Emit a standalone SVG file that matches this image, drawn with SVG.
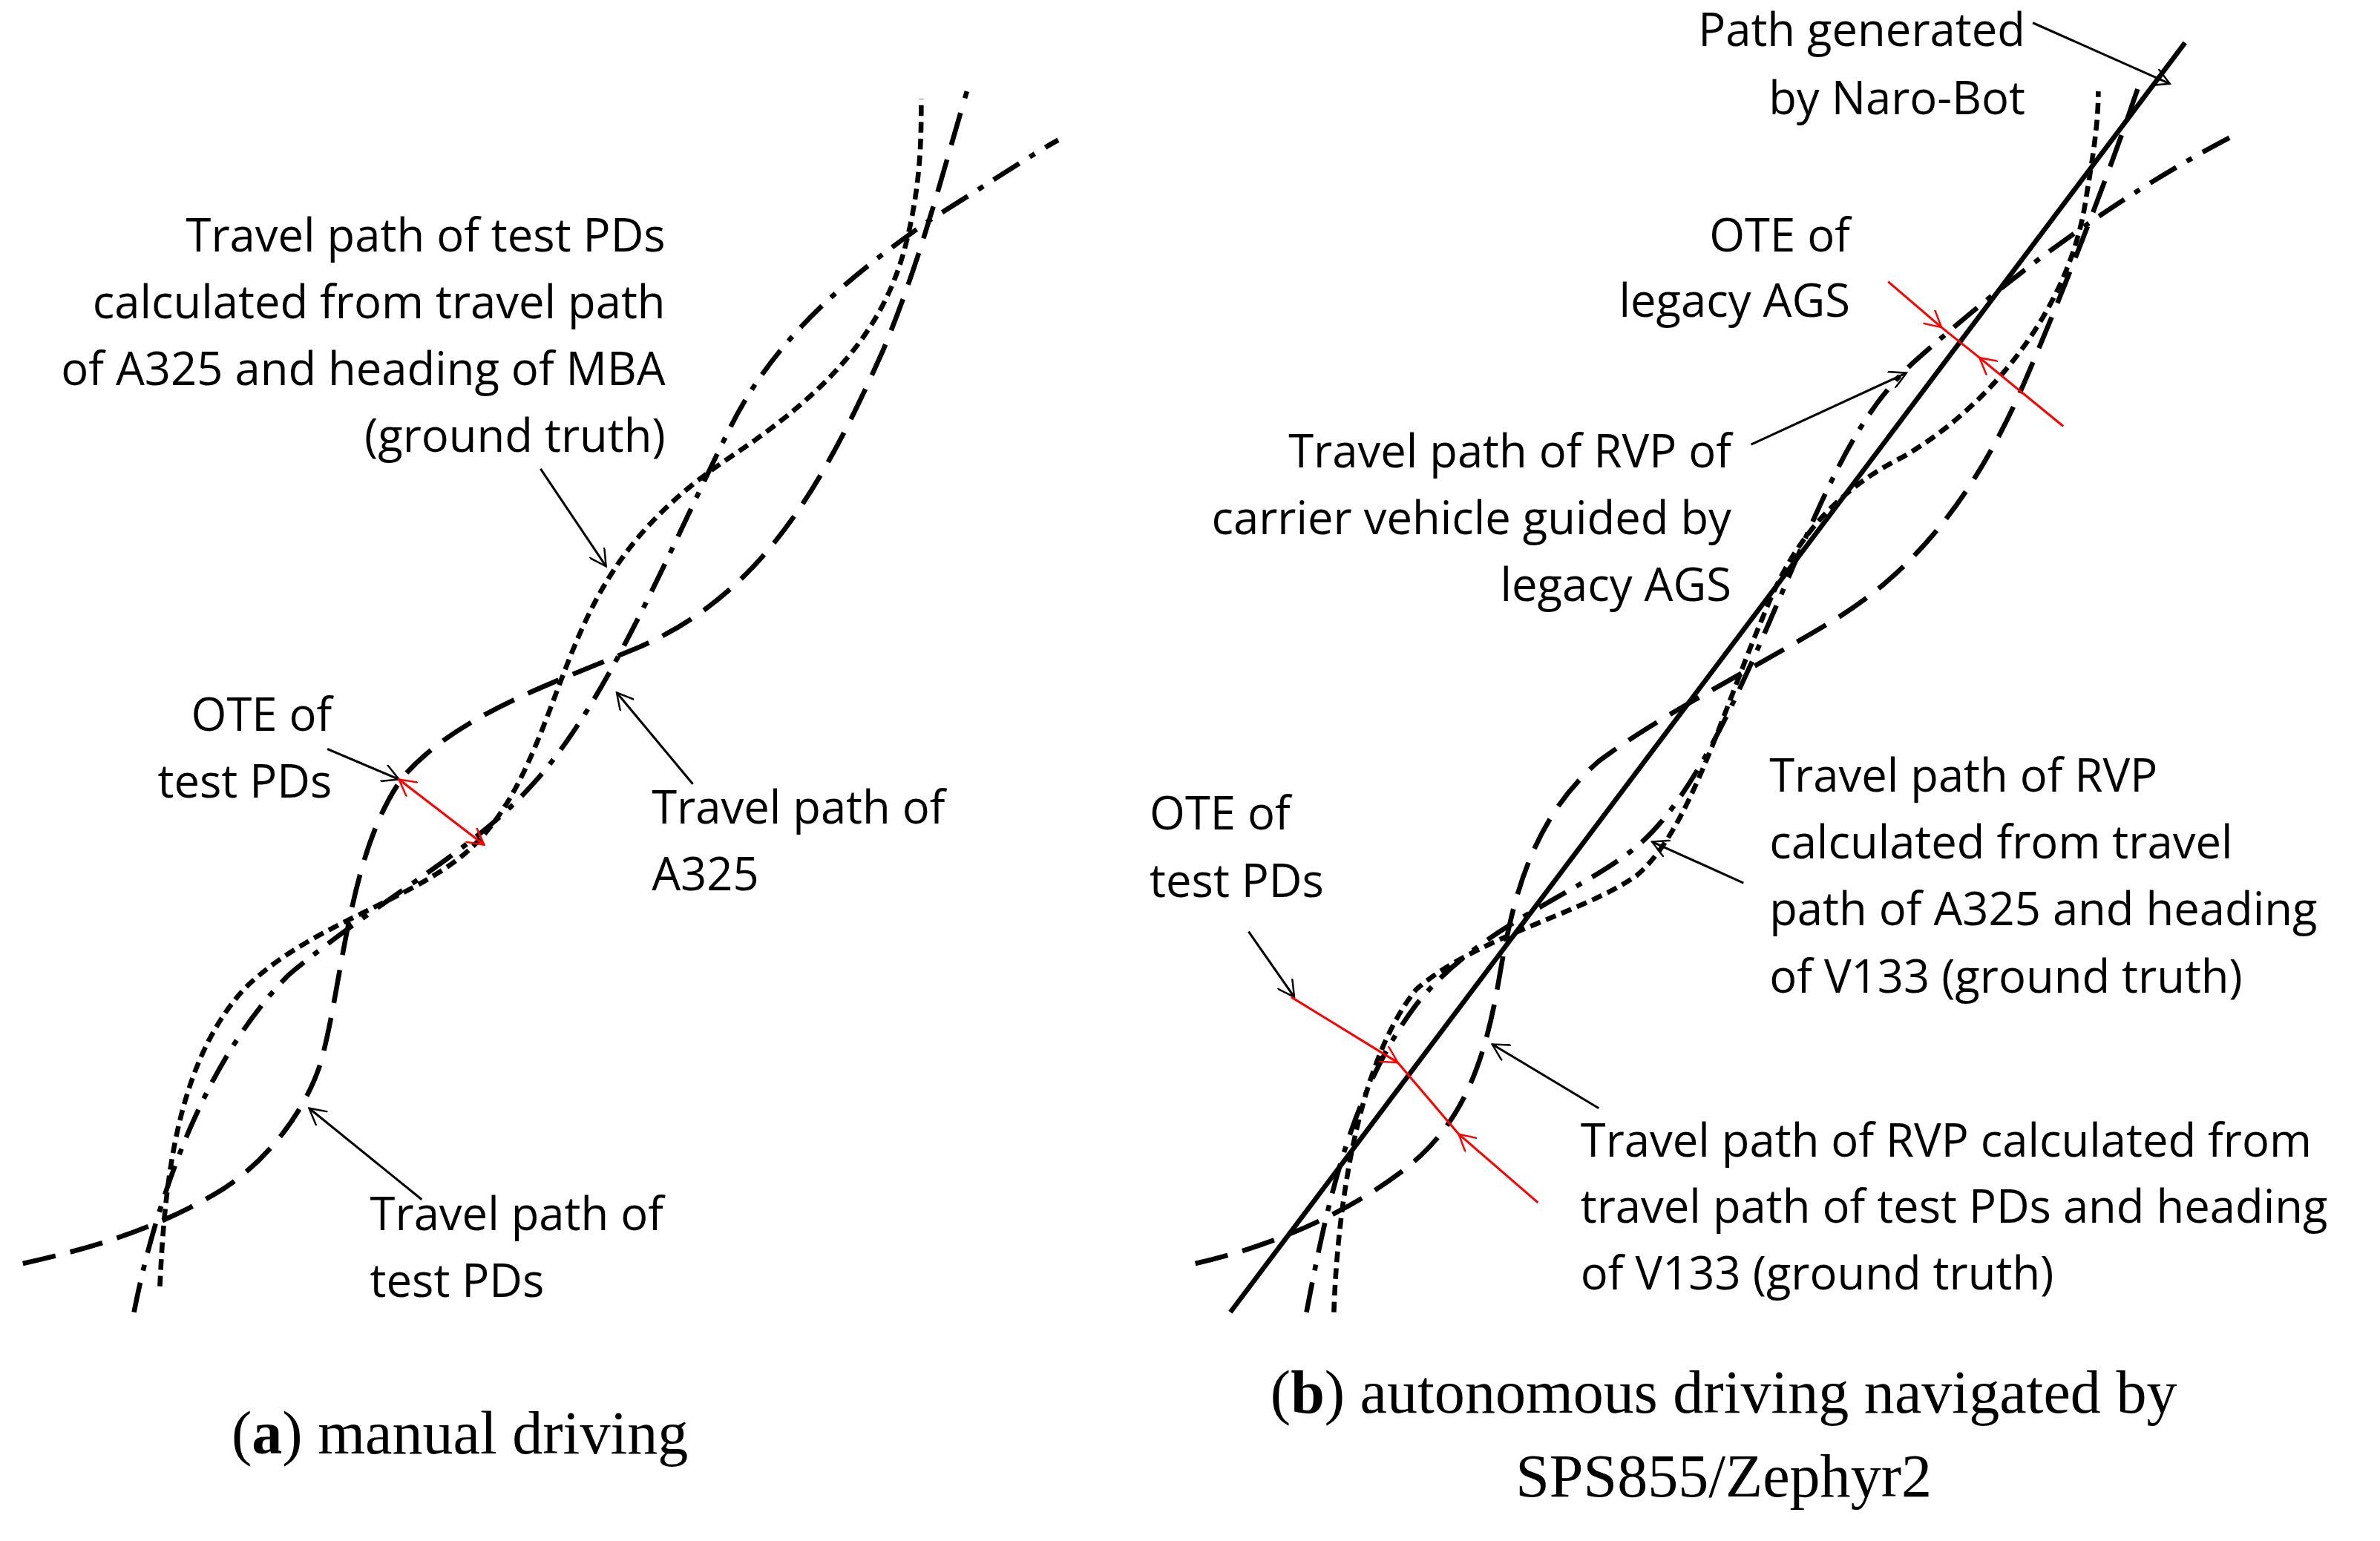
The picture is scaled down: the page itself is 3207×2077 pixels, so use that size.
<svg xmlns="http://www.w3.org/2000/svg" width="3207" height="2077" viewBox="0 0 3207 2077">
<defs>
<marker id="ah" viewBox="0 0 12 12" refX="11" refY="6" markerWidth="12" markerHeight="12" markerUnits="userSpaceOnUse" orient="auto"><path d="M0,0 L11,6 L0,12" fill="none" stroke="#000" stroke-width="1.2"/></marker>
<marker id="ahr" viewBox="0 0 12 12" refX="11" refY="6" markerWidth="12" markerHeight="12" markerUnits="userSpaceOnUse" orient="auto"><path d="M0,0 L11,6 L0,12" fill="none" stroke="#f00" stroke-width="1.2"/></marker>
<marker id="ahrs" viewBox="0 0 12 12" refX="1" refY="6" markerWidth="12" markerHeight="12" markerUnits="userSpaceOnUse" orient="auto"><path d="M12,0 L1,6 L12,12" fill="none" stroke="#f00" stroke-width="1.2"/></marker>
<style>
.t{font-family:"Open Sans","Liberation Sans",sans-serif;font-size:30px;fill:#000}
.r{text-anchor:end}
.c{font-family:"Liberation Serif",serif;font-size:40px;fill:#000;text-anchor:middle}
.p{fill:none;stroke:#000;stroke-width:3.2}
.dash{stroke-dasharray:22 10}
.dd{stroke-dasharray:20 8 4 8}
.dot{stroke-dasharray:7 4}
.a{fill:none;stroke:#000;stroke-width:1.5;marker-end:url(#ah)}
.ra{fill:none;stroke:#f00;stroke-width:1.5}
</style>
</defs>
<g transform="scale(2.0518)">
<g id="connectors">
<path class="p dash" d="M15,830 C60,820 100,808 140,785 C175,765 200,730 210,700 C225,650 228,560 265,510 C300,470 360,450 420,425 C500,390 540,320 580,230 C605,170 620,110 635,60"/>
<path class="p dd" d="M88,862 C100,800 130,700 190,640 C250,590 310,560 350,515 C400,460 440,360 480,280 C510,220 560,180 610,145 C650,120 680,100 695,92"/>
<path class="p dot" d="M105,845 C108,780 115,700 160,650 C200,610 260,595 300,565 C340,535 355,480 375,430 C395,380 420,340 480,300 C540,260 580,220 595,160 C605,120 605,90 605,65"/>
<path class="a" d="M355,308 L398,372"/>
<path class="a" d="M215,492 L262,512"/>
<path class="a" d="M455,515 L405,455"/>
<path class="a" d="M277,788 L203,728"/>
<path class="ra" d="M262,512 L318,555" marker-start="url(#ahrs)" marker-end="url(#ahr)"/>

<path class="p" d="M808,862 L1435,28"/>
<path class="p dash" d="M785,830 C830,820 880,800 920,770 C960,740 975,700 985,640 C995,580 1010,535 1050,500 C1090,470 1150,440 1200,410 C1260,375 1300,320 1330,250 C1360,180 1390,100 1405,55"/>
<path class="p dd" d="M858,862 C870,800 885,720 930,660 C970,610 1030,590 1070,560 C1110,530 1140,460 1170,390 C1200,320 1220,270 1260,235 C1300,200 1370,140 1465,90"/>
<path class="p dot" d="M876,862 C878,800 890,700 930,650 C970,615 1040,600 1075,575 C1110,545 1130,470 1160,400 C1180,350 1210,320 1250,300 C1310,265 1360,200 1370,130 C1375,100 1378,80 1378,60"/>
<path class="a" d="M1335,15 L1425,55"/>
<path class="a" d="M1150,292 L1252,245"/>
<path class="a" d="M1145,580 L1085,553"/>
<path class="a" d="M1050,728 L980,686"/>
<path class="a" d="M820,612 L850,655"/>
<path class="ra" d="M1240,185 L1275,215" marker-end="url(#ahr)"/>
<path class="ra" d="M1355,280 L1300,235" marker-end="url(#ahr)"/>
<path class="ra" d="M1275,215 L1300,235"/>
<path class="ra" d="M848,655 L918,698" marker-end="url(#ahr)"/>
<path class="ra" d="M1010,790 L958,745" marker-end="url(#ahr)"/>
<path class="ra" d="M918,698 L958,745"/>
</g>
<g id="label-gt-a"><text class="t r" x="437" y="165">Travel path of  test PDs</text><text class="t r" x="437" y="209">calculated from travel path</text><text class="t r" x="437" y="253">of A325 and heading of MBA</text><text class="t r" x="437" y="297">(ground truth)</text></g>
<g id="label-ote-a"><text class="t r" x="218" y="480">OTE of</text><text class="t r" x="218" y="524">test PDs</text></g>
<g id="label-a325"><text class="t" x="428" y="541">Travel path of</text><text class="t" x="428" y="585">A325</text></g>
<g id="label-tpd"><text class="t" x="243" y="808">Travel path of</text><text class="t" x="243" y="852">test PDs</text></g>
<g id="caption-a"><text class="c" x="302" y="955">(<tspan font-weight="bold">a</tspan>) manual driving</text></g>

<g id="label-naro"><text class="t r" x="1330" y="30">Path generated</text><text class="t r" x="1330" y="75">by Naro-Bot</text></g>
<g id="label-ote-ags"><text class="t r" x="1215" y="165">OTE of</text><text class="t r" x="1215" y="208">legacy AGS</text></g>
<g id="label-ags"><text class="t r" x="1137" y="307">Travel path of RVP of</text><text class="t r" x="1137" y="351">carrier vehicle guided by</text><text class="t r" x="1137" y="395">legacy AGS</text></g>
<g id="label-rvp-a325"><text class="t" x="1162" y="520">Travel path of RVP</text><text class="t" x="1162" y="564">calculated from travel</text><text class="t" x="1162" y="608">path of A325 and heading</text><text class="t" x="1162" y="652">of V133 (ground truth)</text></g>
<g id="label-ote-b"><text class="t" x="755" y="545">OTE of</text><text class="t" x="755" y="589">test PDs</text></g>
<g id="label-rvp-tpd"><text class="t" x="1038" y="760">Travel path of RVP calculated from</text><text class="t" x="1038" y="803">travel path of test PDs and heading</text><text class="t" x="1038" y="847">of V133 (ground truth)</text></g>
<g id="caption-b"><text class="c" x="1132" y="928">(<tspan font-weight="bold">b</tspan>) autonomous driving navigated by</text><text class="c" x="1132" y="983">SPS855/Zephyr2</text></g>
</g>
</svg>
